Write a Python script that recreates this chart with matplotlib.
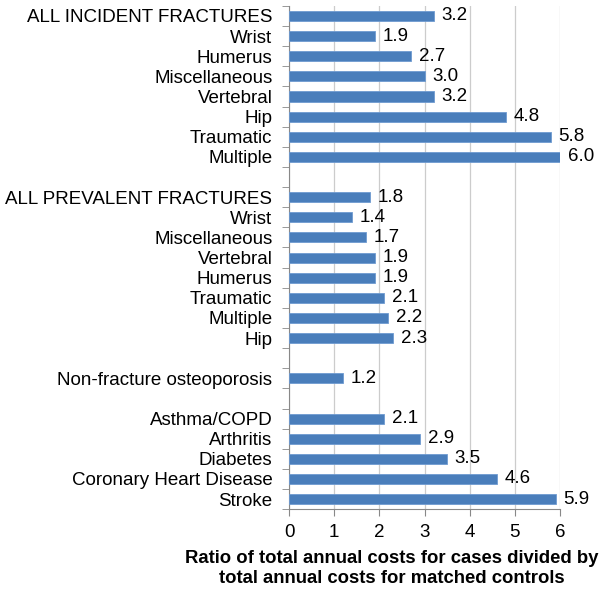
import numpy as np
import matplotlib.pyplot as plt

plt.rcParams['font.family'] = ['Liberation Sans', 'DejaVu Sans']

# categories top to bottom; '' / None = blank gap row
labels = ['ALL INCIDENT FRACTURES', 'Wrist', 'Humerus', 'Miscellaneous', 'Vertebral',
          'Hip', 'Traumatic', 'Multiple', '',
          'ALL PREVALENT FRACTURES', 'Wrist', 'Miscellaneous', 'Vertebral', 'Humerus',
          'Traumatic', 'Multiple', 'Hip', '',
          'Non-fracture osteoporosis', '',
          'Asthma/COPD', 'Arthritis', 'Diabetes', 'Coronary Heart Disease', 'Stroke']
values = [3.2, 1.9, 2.7, 3.0, 3.2, 4.8, 5.8, 6.0, None,
          1.8, 1.4, 1.7, 1.9, 1.9, 2.1, 2.2, 2.3, None,
          1.2, None,
          2.1, 2.9, 3.5, 4.6, 5.9]

fig = plt.figure(figsize=(6.04, 5.90), dpi=100)
ax = fig.add_axes([0.4785, 0.137, 0.4487, 0.853])

n = len(labels)
y = np.arange(n)
for yi, v in zip(y, values):
    if v is None:
        continue
    ax.barh(yi, v, height=0.5, color='#4a7ebb', edgecolor='#6f9bd1', linewidth=0.6, zorder=3)
    ax.text(v + 0.17, yi, f'{v:.1f}', va='center', ha='left', fontsize=13.5, zorder=4)

ax.set_ylim(n - 0.5, -0.5)
ax.set_xlim(0, 6)
ax.set_yticks(y)
ax.set_yticklabels(labels, fontsize=13.5)
ax.set_yticks(np.arange(n + 1) - 0.5, minor=True)
ax.tick_params(axis='y', which='major', length=0, pad=12)
ax.tick_params(axis='y', which='minor', length=5, color='#888888', direction='out')
ax.set_xticks(range(7))
ax.tick_params(axis='x', labelsize=13.5, length=5, color='#888888', pad=6)

ax.grid(axis='x', color='#cccccc', linewidth=0.9, zorder=0)
for s in ['top', 'right']:
    ax.spines[s].set_visible(False)
for s in ['left', 'bottom']:
    ax.spines[s].set_color('#888888')

ax.set_xlabel('Ratio of total annual costs for cases divided by\ntotal annual costs for matched controls',
              fontsize=13.3, fontweight='bold', labelpad=6, linespacing=1.25)
ax.xaxis.label.set_x(0.378)

fig.savefig('out.png', dpi=100)
